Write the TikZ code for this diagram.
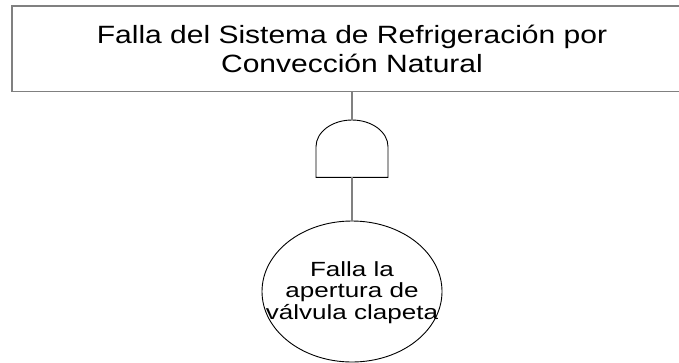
\documentclass[tikz,border=0pt]{standalone}
\usepackage{fontspec}
\usetikzlibrary{shapes.geometric}
\newfontfamily\topfont[FakeStretch=1.2]{Liberation Sans}
\newfontfamily\elfont[FakeStretch=1.27]{Liberation Sans}
\definecolor{edgegray}{RGB}{128,128,128}
\begin{document}
\begin{tikzpicture}[x=1pt,y=-1pt,
  eventbox/.style={draw=edgegray, line width=1.3pt, rectangle, inner sep=0pt,
    minimum width=680pt, minimum height=85.5pt, align=center,
    font=\topfont\fontsize{25}{29}\selectfont},
  basicev/.style={draw=black, line width=0.9pt, ellipse, inner sep=0pt,
    minimum width=180pt, minimum height=141pt},
  evtext/.style={align=center, inner sep=0pt,
    font=\elfont\fontsize{20.5}{21.7}\selectfont},
  gatestyle/.style={draw=black, line width=0.9pt},
  conn/.style={draw=edgegray, line width=1.3pt}]
\path[use as bounding box, clip] (0,0) rectangle (679,362);
\fill[white] (0,0) rectangle (679,362);
% top event
\node[eventbox] (top) at (352,48.75) {Falla del Sistema de Refrigeración por\\Convección Natural};
% AND gate
\coordinate (gtop) at (352,120);
\coordinate (gbot) at (352,177.3);
\draw[gatestyle] (316,177.3) -- (316,146.7)
  arc[start angle=180, end angle=360, x radius=36, y radius=26.7]
  -- (388,177.3) -- cycle;
% basic event
\node[basicev] (ev) at (352,291.5) {};
\node[evtext] (evt) at (352,292.5) {Falla la\\apertura de\\válvula clapeta};
% connectors
\draw[conn] (top.south) -- (gtop);
\draw[conn] (gbot) -- (ev.north);
\end{tikzpicture}
\end{document}
